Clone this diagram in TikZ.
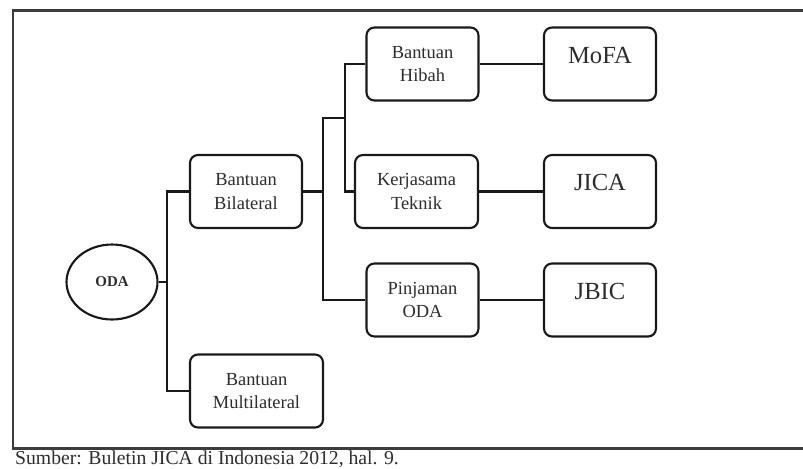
\documentclass[tikz,border=0pt]{standalone}
\usepackage{fontspec}
\setmainfont{Liberation Serif}
\usetikzlibrary{positioning,shapes.geometric}
\definecolor{odaline}{RGB}{25,25,25}
\definecolor{odaframe}{RGB}{60,60,60}
\definecolor{odatext}{RGB}{45,45,45}
\tikzset{
  boxn/.style={draw=odaline, line width=1.2pt, rounded corners=4.5pt, fill=white,
               minimum width=2.24cm, minimum height=1.46cm, align=center,
               text=odatext, font=\fontsize{10.5}{13.5}\selectfont},
  endbox/.style={boxn, font=\fontsize{14}{15}\selectfont,
                 text height=9.5pt, text depth=10.5pt},
  rootn/.style={draw=odaline, line width=1.2pt, ellipse, minimum width=1.82cm,
                minimum height=1.5cm, text=odatext,
                font=\fontsize{8.5}{10}\bfseries\selectfont},
  conn/.style={odaline, line width=1.2pt},
  framebox/.style={odaframe, line width=1.7pt},
  srcnote/.style={anchor=west, text=odatext, font=\fontsize{11.2}{13}\selectfont},
}
\begin{document}
\begin{tikzpicture}[x=0.02cm, y=-0.02cm]
  \useasboundingbox (0,0) rectangle (803,468);
  \draw[framebox] (13,10) rectangle (830,448);
  % nodes
  \node[rootn] (oda) at (112,282) {ODA};
  \node[boxn] (bilat) at (246,191.5) {Bantuan\\Bilateral};
  \node[boxn, minimum width=2.66cm] (multi) at (256.5,391) {Bantuan\\Multilateral};
  \node[boxn] (hibah) at (422.5,64) {Bantuan\\Hibah};
  \node[boxn, minimum width=2.46cm] (kerja) at (416.5,191.5) {Kerjasama\\Teknik};
  \node[boxn] (pinj) at (422.5,300) {Pinjaman\\ODA};
  \node[endbox] (mofa) at (600,64) {MoFA};
  \node[endbox] (jica) at (600,191.5) {JICA};
  \node[endbox] (jbic) at (600,300) {JBIC};
  % junctions
  \coordinate (j1) at (167,282);
  \coordinate (j2) at (323,191.5);
  \coordinate (j3) at (345,118);
  % connectors
  \draw[conn] (oda.east) -- (j1);
  \draw[conn] (bilat.west) -| (j1) |- (multi.west);
  \draw[conn] (bilat.east) -- (j2);
  \draw[conn] (pinj.west) -| (j2) |- (j3);
  \draw[conn] (hibah.west) -| (j3) |- (kerja.west);
  \draw[conn] (hibah.east) -- (mofa.west);
  \draw[conn] (kerja.east) -- (jica.west);
  \draw[conn] (pinj.east) -- (jbic.west);
  \node[srcnote] (src) at (9,459) {Sumber: Buletin JICA di Indonesia 2012, hal. 9.};
\end{tikzpicture}
\end{document}
